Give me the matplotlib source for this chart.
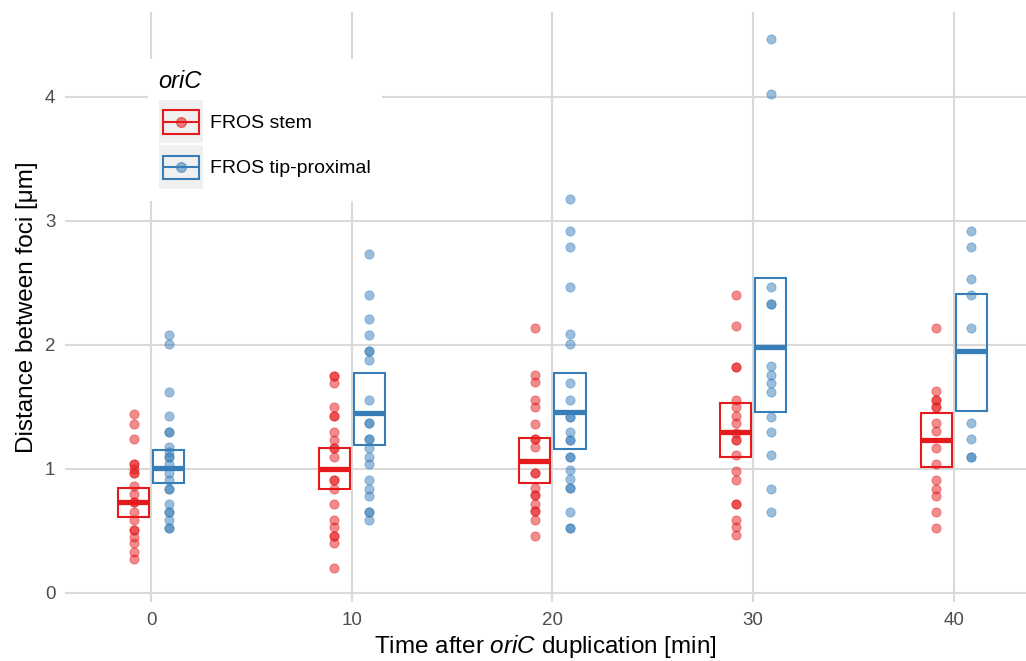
import matplotlib
matplotlib.use("Agg")
import matplotlib.pyplot as plt
import matplotlib.patches as mpatches
from matplotlib.lines import Line2D
from matplotlib.legend_handler import HandlerBase
import numpy as np

plt.rcParams['font.family'] = ['Liberation Sans', 'DejaVu Sans']
plt.rcParams['mathtext.fontset'] = 'custom'
plt.rcParams['mathtext.it'] = 'Liberation Sans:italic'
plt.rcParams['mathtext.rm'] = 'Liberation Sans'

times = [0, 10, 20, 30, 40]

# distances per time point, FROS stem
stem_pts = [
    [1.44, 1.36, 1.24, 1.04, 1.04, 1.00, 0.97, 0.97, 0.86, 0.80, 0.73, 0.73,
     0.65, 0.59, 0.51, 0.51, 0.45, 0.40, 0.33, 0.27],
    [1.75, 1.75, 1.69, 1.50, 1.43, 1.43, 1.30, 1.23, 1.17, 1.17, 1.10, 0.91,
     0.91, 0.84, 0.72, 0.59, 0.53, 0.46, 0.46, 0.40, 0.20],
    [2.14, 1.76, 1.70, 1.56, 1.50, 1.36, 1.24, 1.24, 1.18, 0.97, 0.97, 0.85,
     0.79, 0.79, 0.72, 0.66, 0.66, 0.59, 0.46],
    [2.40, 2.15, 1.82, 1.82, 1.56, 1.50, 1.43, 1.37, 1.29, 1.23, 1.23, 1.11,
     0.98, 0.91, 0.72, 0.72, 0.59, 0.53, 0.47],
    [2.14, 1.63, 1.56, 1.56, 1.50, 1.50, 1.37, 1.31, 1.17, 1.04, 0.91, 0.84,
     0.78, 0.65, 0.52],
]
# FROS tip-proximal
tip_pts = [
    [2.08, 2.01, 1.62, 1.43, 1.30, 1.30, 1.18, 1.14, 1.10, 1.10, 1.04, 0.97,
     0.91, 0.84, 0.84, 0.72, 0.65, 0.65, 0.59, 0.52, 0.52],
    [2.73, 2.40, 2.21, 2.08, 1.95, 1.95, 1.88, 1.56, 1.37, 1.37, 1.24, 1.24,
     1.17, 1.10, 1.04, 0.91, 0.84, 0.78, 0.65, 0.65, 0.59],
    [3.18, 2.92, 2.79, 2.47, 2.09, 2.01, 1.69, 1.56, 1.42, 1.42, 1.30, 1.23,
     1.23, 1.10, 1.10, 0.99, 0.92, 0.85, 0.85, 0.65, 0.52, 0.52],
    [4.47, 4.02, 2.47, 2.33, 2.33, 1.83, 1.76, 1.69, 1.62, 1.42, 1.30, 1.11,
     0.84, 0.65],
    [2.92, 2.79, 2.53, 2.40, 2.14, 1.37, 1.24, 1.10, 1.10],
]

# crossbar summaries (centre, lower, upper)
stem_mid = [0.73, 1.00, 1.065, 1.30, 1.23]
stem_lo = [0.615, 0.836, 0.89, 1.094, 1.019]
stem_hi = [0.85, 1.17, 1.25, 1.53, 1.449]
tip_mid = [1.01, 1.45, 1.457, 1.986, 1.949]
tip_lo = [0.89, 1.19, 1.16, 1.462, 1.468]
tip_hi = [1.153, 1.77, 1.77, 2.543, 2.409]

labels = ['FROS stem', 'FROS tip-proximal']
colors = ['#E41A1C', '#377EB8']
dodge = 0.875
bar_w = 1.55


class CrossbarKey(HandlerBase):
    def create_artists(self, legend, orig_handle, xdescent, ydescent,
                       width, height, fontsize, trans):
        col = orig_handle.get_edgecolor()
        x0, y0 = -xdescent, -ydescent
        bg = mpatches.Rectangle((x0, y0 + 1), width, height - 1,
                                facecolor='#F0F0F0', edgecolor='none',
                                transform=trans)
        bw, bh = width * 0.8, height * 0.52
        bx = x0 + (width - bw) / 2
        by = y0 + (height - bh) / 2
        ym = y0 + height / 2
        box = mpatches.Rectangle((bx, by), bw, bh, facecolor='none',
                                 edgecolor=col, lw=1.5, transform=trans)
        mid = Line2D([bx, bx + bw], [ym, ym], color=col, lw=1.5,
                     transform=trans)
        dot = Line2D([x0 + width / 2], [ym], marker='o', ms=7, color=col,
                     alpha=0.55, transform=trans)
        return [bg, box, mid, dot]


fig = plt.figure(figsize=(10.26, 6.61), dpi=100)
ax = fig.add_axes([65 / 1026, 1 - 602 / 661, 1 - 65 / 1026, (602 - 12) / 661])

groups = [(stem_pts, stem_mid, stem_lo, stem_hi, -dodge),
          (tip_pts, tip_mid, tip_lo, tip_hi, dodge)]

for (pts, mid, lo, hi, off), col in zip(groups, colors):
    for t, vals in zip(times, pts):
        xs = np.full(len(vals), t + off)
        ax.scatter(xs, vals, s=44, color=col, alpha=0.5, edgecolors=col,
                   linewidths=0.6, zorder=3)
    for t, m, l, h in zip(times, mid, lo, hi):
        xc = t + off
        ax.add_patch(mpatches.Rectangle((xc - bar_w / 2, l), bar_w, h - l,
                                        facecolor='none', edgecolor=col,
                                        lw=1.5, zorder=4))
        ax.plot([xc - bar_w / 2, xc + bar_w / 2], [m, m], color=col,
                lw=3.8, solid_capstyle='butt', zorder=4)

ax.set_xlim(-4.29, 43.6)
ax.set_ylim(-0.073, 4.685)
ax.set_xticks(times)
ax.set_yticks([0, 1, 2, 3, 4])
ax.grid(True, color='#D9D9D9', lw=1.5)
ax.set_axisbelow(True)
for s in ax.spines.values():
    s.set_visible(False)
ax.tick_params(length=0, labelsize=13.5, labelcolor='#4D4D4D', pad=7)

ax.set_xlabel('Time after $\\it{oriC}$ duplication [min]', fontsize=17.5,
              labelpad=3)
ax.set_ylabel('Distance between foci [\u03bcm]', fontsize=17.5, labelpad=5)

proxies = [mpatches.Patch(edgecolor=c, facecolor='none') for c in colors]
leg = ax.legend(proxies, labels, handler_map={mpatches.Patch: CrossbarKey()},
                loc='upper left', bbox_to_anchor=(148 / 1026, 1 - 59 / 661),
                bbox_transform=fig.transFigure, fontsize=14,
                title='oriC', title_fontproperties={'style': 'italic', 'size': 17},
                alignment='left', frameon=True, fancybox=False,
                handlelength=2.3, handleheight=3.2, labelspacing=0.0,
                handletextpad=0.35, borderpad=0.55, borderaxespad=0)
# gap between the title and the keys
leg._legend_box.sep = 5
leg.get_frame().set_facecolor('white')
leg.get_frame().set_edgecolor('none')
leg.get_frame().set_alpha(1)

fig.savefig('out.png', dpi=100)
